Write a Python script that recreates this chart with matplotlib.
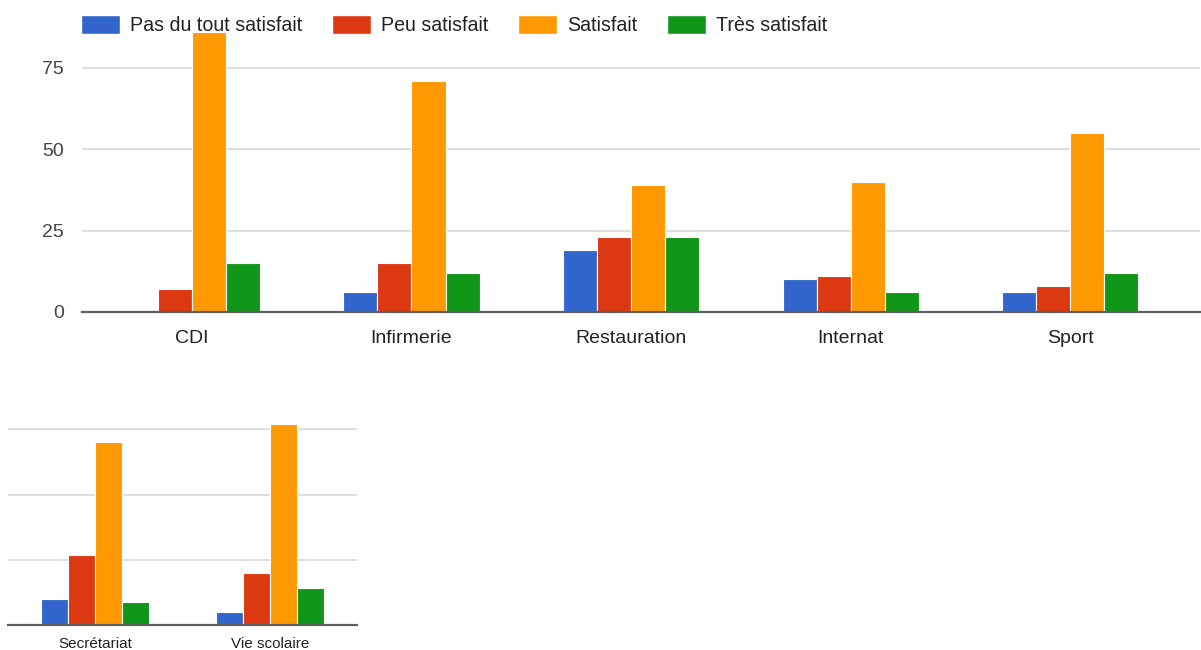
import numpy as np
import matplotlib.pyplot as plt
from matplotlib.patches import Patch

# ---------------- DATA ---------------- #

series = ["Pas du tout satisfait", "Peu satisfait", "Satisfait", "Très satisfait"]
colors = ["#3366cc", "#dc3912", "#ff9900", "#109618"]

top_categories = ["CDI", "Infirmerie", "Restauration", "Internat", "Sport"]
top_pas_du_tout = [0.3, 6, 19, 10, 6]
top_peu = [7, 15, 23, 11, 8]
top_satisfait = [86, 71, 39, 40, 55]
top_tres = [15, 12, 23, 6, 12]

bottom_categories = ["Secrétariat", "Vie scolaire"]
bottom_pas_du_tout = [10, 5]
bottom_peu = [27, 20]
bottom_satisfait = [70, 77]
bottom_tres = [9, 14]

yticks = [0, 25, 50, 75]


# ---------------- PLOTTING ---------------- #

def draw_groups(ax, categories, values, bar_w, label_size, label_pad):
    x = np.arange(len(categories))
    offsets = (np.arange(len(values)) - (len(values) - 1) / 2) * bar_w
    for vals, off, col, name in zip(values, offsets, colors, series):
        ax.bar(x + off, vals, width=bar_w, color=col, edgecolor="white",
               linewidth=0.8, label=name, zorder=3)
    ax.set_xticks(x)
    ax.set_xticklabels(categories, fontsize=label_size, color="#222222")
    ax.tick_params(axis="x", length=0, pad=label_pad)
    ax.set_yticks(yticks)
    ax.yaxis.grid(True, color="#d9d9d9", linewidth=1.2, zorder=0)
    ax.set_axisbelow(True)
    for side in ["top", "right", "left"]:
        ax.spines[side].set_visible(False)
    ax.spines["bottom"].set_color("#5f5f5f")
    ax.spines["bottom"].set_linewidth(1.6)
    ax.spines["bottom"].set_zorder(4)


plt.rcParams["font.family"] = ["Liberation Sans", "DejaVu Sans"]

fig = plt.figure(figsize=(12.01, 6.5), dpi=100)
W, H = 1201, 650

# top chart
px_top = 3.26
ax1 = fig.add_axes([82 / W, (H - 312) / H, (1200 - 82) / W, 90 * px_top / H])
draw_groups(ax1, top_categories,
            [top_pas_du_tout, top_peu, top_satisfait, top_tres], 0.155, 14, 13)
ax1.set_xlim(-0.5, 4.59)
ax1.set_ylim(0, 90)
ax1.tick_params(axis="y", length=0, pad=13, labelsize=14, labelcolor="#444444")

# bottom chart (cropped, no y labels)
px_bot = 2.61
ax2 = fig.add_axes([8 / W, (H - 625) / H, (357 - 8) / W, 80 * px_bot / H])
draw_groups(ax2, bottom_categories,
            [bottom_pas_du_tout, bottom_peu, bottom_satisfait, bottom_tres], 0.155, 11, 9)
ax2.set_xlim(-0.5, 1.5)
ax2.set_ylim(0, 80)
ax2.tick_params(axis="y", length=0, labelleft=False)

# legend
handles = [Patch(facecolor=c, edgecolor="white", label=s) for c, s in zip(colors, series)]
fig.legend(handles=handles, loc="upper left", bbox_to_anchor=(63 / W, 1 + 3 / H),
           ncol=4, frameon=False, fontsize=14.1, handlelength=2.0, handleheight=1.15,
           handletextpad=0.5, columnspacing=1.52, labelcolor="#222222")

fig.savefig("out.png", dpi=100, facecolor="white")
